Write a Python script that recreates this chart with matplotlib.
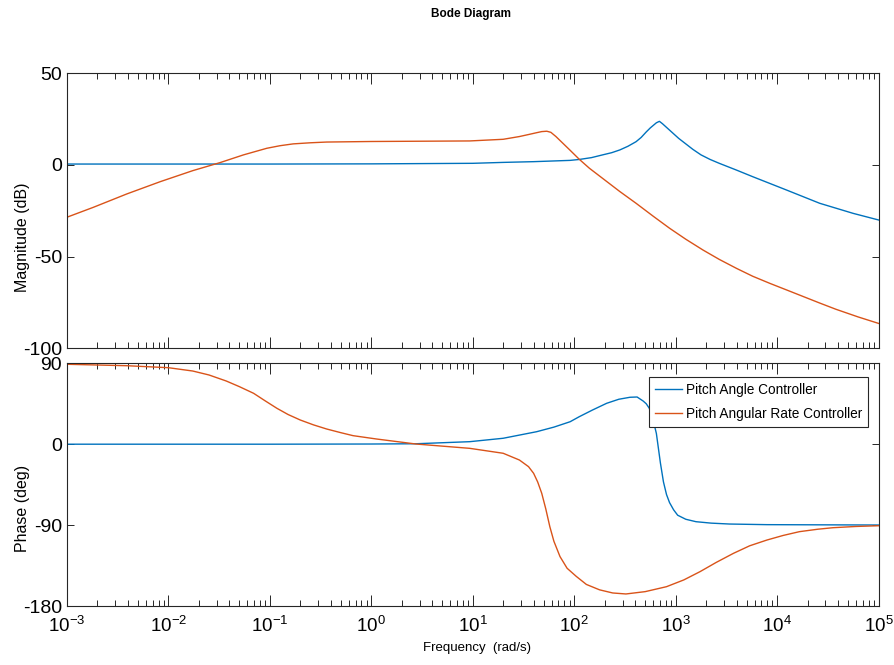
# Bode diagram of the two pitch controllers.
import matplotlib
matplotlib.use("Agg")
import matplotlib.pyplot as plt
import matplotlib.ticker as mticker
import numpy as np

plt.rcParams['font.family'] = ['Liberation Sans', 'DejaVu Sans']
plt.rcParams['mathtext.default'] = 'regular'
plt.rcParams['axes.unicode_minus'] = False

# ---- data (frequency as log10 of rad/s) ----
# Pitch Angle Controller, magnitude
angle_mag_logw = [-3, -1, 0, 1.0, 1.3, 1.6, 1.96, 2.05, 2.17, 2.28, 2.37, 2.45, 2.53, 2.61,
                  2.66, 2.71, 2.75, 2.78, 2.81, 2.84, 2.87, 2.91, 2.97, 3.03, 3.10, 3.17,
                  3.25, 3.34, 3.43, 3.6, 3.76, 4.09, 4.42, 4.75, 5.0]
angle_mag_db = [0.5, 0.5, 0.6, 0.9, 1.4, 1.8, 2.5, 3.0, 4.0, 5.5, 6.7, 8.2, 10.2, 12.7,
                15.0, 18.0, 20.2, 21.6, 23.0, 23.8, 22.5, 20.5, 17.5, 14.5, 11.5, 8.5,
                5.5, 3.0, 0.9, -2.8, -6.4, -13.6, -20.9, -26.4, -30.0]

# Pitch Angular Rate Controller, magnitude
rate_mag_logw = [-3.0, -2.74, -2.41, -2.08, -1.76, -1.49, -1.26, -1.03, -0.9, -0.77, -0.6,
                 -0.44, 0.0, 0.97, 1.30, 1.46, 1.55, 1.63, 1.68, 1.73, 1.77, 1.82, 1.96,
                 2.05, 2.15, 2.28, 2.45, 2.61, 2.78, 2.94, 3.1, 3.27, 3.43, 3.60, 3.76,
                 3.93, 4.1, 4.26, 4.42, 4.58, 4.8, 5.0]
rate_mag_db = [-28.5, -23.1, -15.8, -9.1, -3.1, 1.3, 5.5, 9.1, 10.5, 11.5, 12.1,
               12.5, 12.8, 13.1, 14.0, 15.5, 16.6, 17.6, 18.2, 18.4, 17.8, 15.5, 8.0,
               3.1, -1.8, -7.3, -14.5, -20.9, -28.0, -34.5, -40.5, -46.4, -51.5, -56.4, -60.7,
               -64.6, -68.3, -71.8, -75.3, -78.7, -82.9, -86.4]

# Pitch Angle Controller, phase
angle_ph_logw = [-3, -1, 0, 0.44, 0.97, 1.30, 1.63, 1.8, 1.96, 2.05, 2.18, 2.32, 2.44,
                 2.55, 2.62, 2.68, 2.71, 2.74, 2.78, 2.81, 2.85, 2.88, 2.91, 2.94, 2.98,
                 3.02, 3.1, 3.2, 3.35, 3.53, 3.90, 5.0]
angle_ph_deg = [0, 0, 0.2, 0.5, 2.8, 6.6, 13.9, 19, 25, 30.6, 38, 45.5, 50,
                52.2, 52.5, 48, 45, 40, 26, 12, -21, -42, -56, -65, -73,
                -79, -83.5, -86.2, -87.8, -88.8, -89.5, -89.9]

# Pitch Angular Rate Controller, phase
rate_ph_logw = [-3.0, -2.41, -2.0, -1.76, -1.6, -1.43, -1.3, -1.16, -1.05, -0.93, -0.82,
                -0.70, -0.57, -0.44, -0.3, -0.18, 0.05, 0.44, 0.97, 1.30, 1.46, 1.55,
                1.60, 1.64, 1.68, 1.72, 1.76, 1.80, 1.86, 1.93, 2.02, 2.12, 2.25, 2.38,
                2.51, 2.7, 2.91, 3.08, 3.24, 3.4, 3.57, 3.73, 3.90, 4.06, 4.22, 4.4,
                4.55, 4.78, 5.0]
rate_ph_deg = [88.9, 87.3, 85.1, 81.4, 77, 70.3, 64, 56.6, 48.5, 39.9, 33,
               26.9, 21.5, 16.9, 12.8, 9.5, 5.8, 0.2, -4.6, -10.1, -17.6, -25,
               -32.4, -42, -54.6, -72, -91.8, -108, -125, -138, -147, -156, -162, -165.5,
               -166.6, -164, -158.5, -151, -141.8, -131.5, -121.4, -113, -106.6, -101.5, -97.3, -94.6,
               -92.9, -91.5, -90.7]

labels = ['Pitch Angle Controller', 'Pitch Angular Rate Controller']
colors = ['#0072BD', '#D95319']

mag_ticks = [50, 0, -50, -100]
phase_ticks = [90, 0, -90, -180]

# ---- figure ----
fig = plt.figure(figsize=(8.94, 6.65), dpi=100)
ax1 = fig.add_axes([0.0749, 0.4762, 0.9078, 0.4136])
ax2 = fig.add_axes([0.0749, 0.0887, 0.9078, 0.3650])

w = lambda lw: np.power(10.0, lw)

ax1.plot(w(angle_mag_logw), angle_mag_db, color=colors[0], lw=1.0, label=labels[0])
ax1.plot(w(rate_mag_logw), rate_mag_db, color=colors[1], lw=1.0, label=labels[1])
ax2.plot(w(angle_ph_logw), angle_ph_deg, color=colors[0], lw=1.0, label=labels[0])
ax2.plot(w(rate_ph_logw), rate_ph_deg, color=colors[1], lw=1.0, label=labels[1])

for ax, yt in ((ax1, mag_ticks), (ax2, phase_ticks)):
    ax.set_xscale('log')
    ax.set_xlim(1e-3, 1e5)
    ax.set_ylim(min(yt), max(yt))
    ax.set_yticks(yt)
    ax.xaxis.set_major_locator(mticker.LogLocator(base=10, numticks=20))
    ax.xaxis.set_minor_locator(mticker.LogLocator(base=10, subs=np.arange(2, 10), numticks=20))
    ax.xaxis.set_minor_formatter(mticker.NullFormatter())
    ax.tick_params(which='both', direction='in', top=True, right=True, color='#262626', width=0.7)
    ax.tick_params(axis='x', which='major', length=8)
    ax.tick_params(axis='x', which='minor', length=4)
    ax.tick_params(axis='y', which='major', length=5)
    ax.tick_params(axis='y', which='minor', left=False, right=False)
    ax.tick_params(labelsize=14, colors='#262626', labelcolor='black')
    for s in ax.spines.values():
        s.set_color('#262626')
        s.set_linewidth(0.8)

ax1.tick_params(axis='x', which='both', labelbottom=False)
ax2.tick_params(axis='x', pad=7, labelsize=13.5)

ax1.set_ylabel('Magnitude (dB)', fontsize=11.5)
ax2.set_ylabel('Phase (deg)', fontsize=11.5)
ax1.yaxis.set_label_coords(-0.046, 0.405)
ax2.yaxis.set_label_coords(-0.046, 0.40)

fig.text(0.534, 0.025, 'Frequency  (rad/s)', ha='center', va='center', fontsize=9.5)
fig.text(0.527, 0.979, 'Bode Diagram', ha='center', va='center', fontsize=8.5, fontweight='bold')

leg = ax2.legend(loc='upper right', bbox_to_anchor=(0.987, 0.944), borderaxespad=0,
                 fontsize=9.8, handlelength=2.0, handletextpad=0.25, labelspacing=0.75,
                 borderpad=0.45, fancybox=False, framealpha=1)
leg.get_frame().set_edgecolor('#262626')
leg.get_frame().set_linewidth(0.8)

plt.savefig('out.png', dpi=100)
